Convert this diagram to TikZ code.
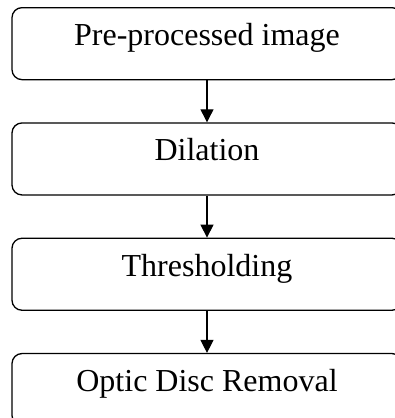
\documentclass[tikz,border=0pt]{standalone}
\usepackage{fontspec}
\setmainfont{Liberation Serif}
\usetikzlibrary{arrows.meta,positioning}

\tikzset{
  stage/.style={draw, line width=1.3pt, rounded corners=10pt, minimum width=390pt,
    inner xsep=0pt, inner ysep=0pt, text height=38pt, text depth=34pt,
    font=\fontsize{32}{38}\selectfont},
  flow/.style={line width=1.2pt, -{Triangle[length=13pt,width=13pt]}}
}

\begin{document}
\begin{tikzpicture}[node distance=42pt]
\useasboundingbox (0,0) rectangle (395pt,-418pt);
% processing stages, top to bottom
\node[stage, anchor=north] (pre) at (207pt,-7pt) {Pre-processed image};
\node[stage, below=of pre] (dil) {Dilation};
\node[stage, below=of dil] (thr) {Thresholding};
\node[stage, below=of thr] (odr) {Optic Disc Removal};
\draw[flow] (pre) -- (dil);
\draw[flow] (dil) -- (thr);
\draw[flow] (thr) -- (odr);
\end{tikzpicture}
\end{document}
